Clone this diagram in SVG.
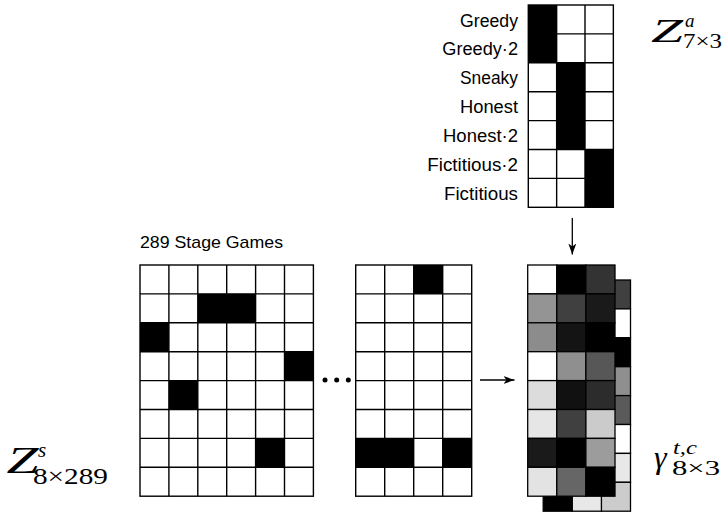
<svg xmlns="http://www.w3.org/2000/svg" width="723" height="517" viewBox="0 0 723 517">
<style>
.bg{fill:#fff;stroke:#000;stroke-width:1.4}
.blk{fill:#000}
.ln{fill:none;stroke:#000;stroke-width:1.4}
.c{stroke:#000;stroke-width:1.3}
.lbl{font-family:"Liberation Sans",Arial,sans-serif;font-size:17.5px;fill:#000;text-anchor:end}
.ttl{font-family:"Liberation Sans",Arial,sans-serif;font-size:17px;fill:#000}
.mi{font-family:"Liberation Serif","Times New Roman",serif;font-style:italic;fill:#000}
.mr{font-family:"Liberation Serif","Times New Roman",serif;fill:#000}
.arr{stroke:#000;stroke-width:1.3;fill:none}
</style>
<defs>
<marker id="ah" markerUnits="userSpaceOnUse" markerWidth="12" markerHeight="10" refX="11" refY="4.5" orient="auto">
<path d="M0,0.5 L11,4.5 L0,8.5 L3,4.5 z" fill="#000"/>
</marker>
</defs>

<g id="agent-matrix">
<rect class="bg" x="528.3" y="5" width="85.05" height="202.3"/>
<rect class="blk" x="528.3" y="5" width="28.35" height="57.8"/>
<rect class="blk" x="556.65" y="62.8" width="28.35" height="86.7"/>
<rect class="blk" x="585" y="149.5" width="28.35" height="57.8"/>
<path class="ln" d="M556.65,5V207.3M585,5V207.3M528.3,33.9H613.35M528.3,62.8H613.35M528.3,91.7H613.35M528.3,120.6H613.35M528.3,149.5H613.35M528.3,178.4H613.35"/>
<text class="lbl" x="518" y="26.5" textLength="58" lengthAdjust="spacingAndGlyphs">Greedy</text>
<text class="lbl" x="518" y="55.4" textLength="75.7" lengthAdjust="spacingAndGlyphs">Greedy·2</text>
<text class="lbl" x="518" y="84.3" textLength="58" lengthAdjust="spacingAndGlyphs">Sneaky</text>
<text class="lbl" x="518" y="113.2" textLength="58" lengthAdjust="spacingAndGlyphs">Honest</text>
<text class="lbl" x="518" y="142.1" textLength="75" lengthAdjust="spacingAndGlyphs">Honest·2</text>
<text class="lbl" x="518" y="171" textLength="90.7" lengthAdjust="spacingAndGlyphs">Fictitious·2</text>
<text class="lbl" x="518" y="199.9" textLength="74" lengthAdjust="spacingAndGlyphs">Fictitious</text>
<text class="mi" x="651" y="41.7" font-size="34" textLength="32" lengthAdjust="spacingAndGlyphs">Z</text>
<text class="mi" x="685" y="26.5" font-size="19">a</text>
<text class="mr" x="683" y="48" font-size="20" textLength="39" lengthAdjust="spacingAndGlyphs">7×3</text>
</g>

<g id="stage-games-1">
<text class="ttl" x="140" y="247.5" textLength="143" lengthAdjust="spacingAndGlyphs">289 Stage Games</text>
<rect class="bg" x="140" y="265" width="173.4" height="231.2"/>
<rect class="blk" x="197.8" y="293.9" width="57.8" height="28.9"/>
<rect class="blk" x="140" y="322.8" width="28.9" height="28.9"/>
<rect class="blk" x="284.5" y="351.7" width="28.9" height="28.9"/>
<rect class="blk" x="168.9" y="380.6" width="28.9" height="28.9"/>
<rect class="blk" x="255.6" y="438.4" width="28.9" height="28.9"/>
<path class="ln" d="M168.9,265V496.2M197.8,265V496.2M226.7,265V496.2M255.6,265V496.2M284.5,265V496.2M140,293.9H313.4M140,322.8H313.4M140,351.7H313.4M140,380.6H313.4M140,409.5H313.4M140,438.4H313.4M140,467.3H313.4"/>
<text class="mi" x="6.5" y="473.3" font-size="37" textLength="32" lengthAdjust="spacingAndGlyphs">Z</text>
<text class="mi" x="38" y="457" font-size="21">s</text>
<text class="mr" x="33" y="484" font-size="23" textLength="75" lengthAdjust="spacingAndGlyphs">8×289</text>
</g>

<g id="ellipsis">
<circle cx="325" cy="380" r="2.5"/>
<circle cx="336.7" cy="380" r="2.5"/>
<circle cx="348.3" cy="380" r="2.5"/>
</g>

<g id="stage-games-2">
<rect class="bg" x="355.7" y="265" width="116" height="231.2"/>
<rect class="blk" x="413.7" y="265" width="29" height="28.9"/>
<rect class="blk" x="355.7" y="438.4" width="58" height="28.9"/>
<rect class="blk" x="442.7" y="438.4" width="29" height="28.9"/>
<path class="ln" d="M384.7,265V496.2M413.7,265V496.2M442.7,265V496.2M355.7,293.9H471.7M355.7,322.8H471.7M355.7,351.7H471.7M355.7,380.6H471.7M355.7,409.5H471.7M355.7,438.4H471.7M355.7,467.3H471.7"/>
</g>

<g id="gamma-stack">
<g id="gamma-back">
<rect class="c" x="601.4" y="280" width="29.1" height="28.9" fill="#404040"/>
<rect class="c" x="601.4" y="308.9" width="29.1" height="28.9" fill="#fff"/>
<rect class="c" x="601.4" y="337.8" width="29.1" height="28.9" fill="#000"/>
<rect class="c" x="601.4" y="366.7" width="29.1" height="28.9" fill="#8f8f8f"/>
<rect class="c" x="601.4" y="395.6" width="29.1" height="28.9" fill="#5a5a5a"/>
<rect class="c" x="601.4" y="424.5" width="29.1" height="28.9" fill="#fff"/>
<rect class="c" x="601.4" y="453.4" width="29.1" height="28.9" fill="#e8e8e8"/>
<rect class="c" x="601.4" y="482.3" width="29.1" height="28.9" fill="#cccccc"/>
<rect class="c" x="543.2" y="482.3" width="29.1" height="28.9" fill="#000"/>
<rect class="c" x="572.3" y="482.3" width="29.1" height="28.9" fill="#e8e8e8"/>
</g>
<g id="gamma-front">
<rect class="c" x="527.7" y="265" width="29.1" height="28.9" fill="#fff"/>
<rect class="c" x="556.8" y="265" width="29.1" height="28.9" fill="#000"/>
<rect class="c" x="585.9" y="265" width="29.1" height="28.9" fill="#333"/>
<rect class="c" x="527.7" y="293.9" width="29.1" height="28.9" fill="#949494"/>
<rect class="c" x="556.8" y="293.9" width="29.1" height="28.9" fill="#404040"/>
<rect class="c" x="585.9" y="293.9" width="29.1" height="28.9" fill="#1a1a1a"/>
<rect class="c" x="527.7" y="322.8" width="29.1" height="28.9" fill="#8c8c8c"/>
<rect class="c" x="556.8" y="322.8" width="29.1" height="28.9" fill="#141414"/>
<rect class="c" x="585.9" y="322.8" width="29.1" height="28.9" fill="#000"/>
<rect class="c" x="527.7" y="351.7" width="29.1" height="28.9" fill="#fff"/>
<rect class="c" x="556.8" y="351.7" width="29.1" height="28.9" fill="#8f8f8f"/>
<rect class="c" x="585.9" y="351.7" width="29.1" height="28.9" fill="#575757"/>
<rect class="c" x="527.7" y="380.6" width="29.1" height="28.9" fill="#dcdcdc"/>
<rect class="c" x="556.8" y="380.6" width="29.1" height="28.9" fill="#111"/>
<rect class="c" x="585.9" y="380.6" width="29.1" height="28.9" fill="#2c2c2c"/>
<rect class="c" x="527.7" y="409.5" width="29.1" height="28.9" fill="#e6e6e6"/>
<rect class="c" x="556.8" y="409.5" width="29.1" height="28.9" fill="#404040"/>
<rect class="c" x="585.9" y="409.5" width="29.1" height="28.9" fill="#cbcbcb"/>
<rect class="c" x="527.7" y="438.4" width="29.1" height="28.9" fill="#1a1a1a"/>
<rect class="c" x="556.8" y="438.4" width="29.1" height="28.9" fill="#000"/>
<rect class="c" x="585.9" y="438.4" width="29.1" height="28.9" fill="#9c9c9c"/>
<rect class="c" x="527.7" y="467.3" width="29.1" height="28.9" fill="#e3e3e3"/>
<rect class="c" x="556.8" y="467.3" width="29.1" height="28.9" fill="#666"/>
<rect class="c" x="585.9" y="467.3" width="29.1" height="28.9" fill="#000"/>
</g>
<text class="mi" x="654" y="468" font-size="32">γ</text>
<text class="mi" x="673" y="454" font-size="19" textLength="24" lengthAdjust="spacingAndGlyphs">t,c</text>
<text class="mr" x="672" y="474.5" font-size="20" textLength="48" lengthAdjust="spacingAndGlyphs">8×3</text>
</g>

<g id="connectors">
<line class="arr" x1="572.3" y1="218" x2="572.3" y2="254.5" marker-end="url(#ah)"/>
<line class="arr" x1="480" y1="380" x2="514.5" y2="380" marker-end="url(#ah)"/>
</g>
</svg>
